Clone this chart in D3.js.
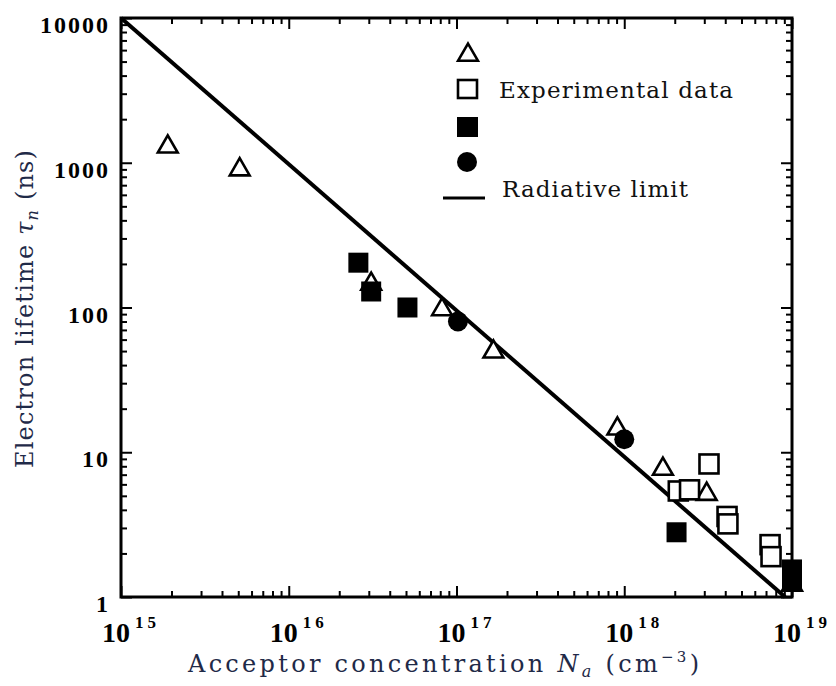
<!DOCTYPE html>
<html>
<head>
<meta charset="utf-8">
<script src="https://cdn.jsdelivr.net/npm/d3@7/dist/d3.min.js"></script>
<style>
  html, body { margin: 0; padding: 0; background: #fff; }
  svg { display: block; }
</style>
</head>
<body>
<svg id="chart" width="836" height="686"></svg>
<script>
// Acceptor concentration (cm^-3) and electron lifetime (ns) for each data set
const triangleN   = [1.9e15, 5.1e15, 3.1e16, 8.2e16, 1.66e17, 9.1e17, 1.7e18, 3.1e18, 1.0e19];
const triangleTau = [1330, 925, 150, 100, 51, 15, 7.9, 5.3, 1.25];

const openSquareN   = [2.1e18, 2.45e18, 3.2e18, 4.1e18, 4.15e18, 7.4e18, 7.5e18];
const openSquareTau = [5.4, 5.5, 8.3, 3.6, 3.2, 2.3, 1.9];

const filledSquareN   = [2.6e16, 3.1e16, 5.1e16, 2.05e18, 1.0e19, 1.0e19];
const filledSquareTau = [204, 129, 100, 2.8, 1.55, 1.3];

const circleN   = [1.02e17, 1.0e18];
const circleTau = [80, 12.3];

// Radiative limit endpoints
const limitN   = [1e15, 9.1e18];
const limitTau = [1e4, 1];

// Axis tick values
const xMajor = [1e15, 1e16, 1e17, 1e18, 1e19];
const xExponents = ["15", "16", "17", "18", "19"];
const yMajor = [1, 10, 100, 1000, 10000];
const yLabels = ["1", "10", "100", "1000", "10000"];

const svg = d3.select("#chart");
const plotLeft = 121, plotRight = 792, plotTop = 18, plotBottom = 597;

const x = d3.scaleLog().domain([1e15, 1e19]).range([plotLeft, plotRight]);
const y = d3.scaleLog().domain([1, 1e4]).range([plotBottom, plotTop]);

const xMinor = x.ticks().filter(v => !xMajor.includes(v));
const yMinor = y.ticks().filter(v => !yMajor.includes(v));

const ink = "#000";

function styleAxis(g) {
  g.select(".domain").remove();
  g.selectAll(".tick line").attr("stroke", ink).attr("stroke-width", 2);
  g.selectAll(".tick text").remove();
}

// Inward ticks on all four sides
[
  [d3.axisBottom(x), `translate(0,${plotBottom})`, xMajor, xMinor],
  [d3.axisTop(x),    `translate(0,${plotTop})`,    xMajor, xMinor],
  [d3.axisLeft(y),   `translate(${plotLeft},0)`,   yMajor, yMinor],
  [d3.axisRight(y),  `translate(${plotRight},0)`,  yMajor, yMinor]
].forEach(([axis, tr, major, minor]) => {
  svg.append("g").attr("transform", tr)
    .call(axis.tickValues(minor).tickSize(-6).tickFormat(""))
    .call(styleAxis);
  svg.append("g").attr("transform", tr)
    .call(axis.tickValues(major).tickSize(-11).tickFormat(""))
    .call(styleAxis);
});

// Frame
svg.append("rect")
  .attr("x", plotLeft).attr("y", plotTop)
  .attr("width", plotRight - plotLeft).attr("height", plotBottom - plotTop)
  .attr("fill", "none").attr("stroke", ink).attr("stroke-width", 3);

// Tick labels
const tickFont = "'Liberation Serif', 'Times New Roman', serif";
svg.append("g").selectAll("text")
  .data(yMajor)
  .join("text")
  .attr("x", plotLeft - 11)
  .attr("y", d => y(d) + 15)
  .attr("text-anchor", "end")
  .attr("font-family", tickFont)
  .attr("font-weight", "bold")
  .attr("font-size", 24)
  .attr("letter-spacing", 2)
  .text((d, i) => yLabels[i]);

const xl = svg.append("g").selectAll("text")
  .data(xMajor)
  .join("text")
  .attr("x", d => x(d) + 10)
  .attr("y", plotBottom + 45)
  .attr("text-anchor", "middle")
  .attr("font-family", tickFont)
  .attr("font-weight", "bold")
  .attr("font-size", 28);
xl.append("tspan").text("10");
xl.append("tspan").attr("dy", -14).attr("dx", 5).attr("font-size", 17)
  .attr("letter-spacing", 4)
  .text((d, i) => xExponents[i]);

// Radiative limit line
svg.append("path")
  .datum(limitN.map((n, i) => [n, limitTau[i]]))
  .attr("d", d3.line().x(d => x(d[0])).y(d => y(d[1])))
  .attr("fill", "none").attr("stroke", ink).attr("stroke-width", 4);

// Markers
const tri = d3.symbol().type(d3.symbolTriangle).size(170);
const sq = 19;

svg.append("g").selectAll("path")
  .data(triangleN.map((n, i) => [n, triangleTau[i]]))
  .join("path")
  .attr("transform", d => `translate(${x(d[0])},${y(d[1]) + 2})`)
  .attr("d", tri)
  .attr("fill", "#fff").attr("stroke", ink).attr("stroke-width", 2.6);

svg.append("g").selectAll("rect")
  .data(openSquareN.map((n, i) => [n, openSquareTau[i]]))
  .join("rect")
  .attr("x", d => x(d[0]) - sq / 2).attr("y", d => y(d[1]) - sq / 2)
  .attr("width", sq).attr("height", sq)
  .attr("fill", "#fff").attr("stroke", ink).attr("stroke-width", 2.6);

svg.append("g").selectAll("rect")
  .data(filledSquareN.map((n, i) => [n, filledSquareTau[i]]))
  .join("rect")
  .attr("x", d => x(d[0]) - 10).attr("y", d => y(d[1]) - 10)
  .attr("width", 20).attr("height", 20)
  .attr("fill", ink);

svg.append("g").selectAll("circle")
  .data(circleN.map((n, i) => [n, circleTau[i]]))
  .join("circle")
  .attr("cx", d => x(d[0])).attr("cy", d => y(d[1]))
  .attr("r", 10)
  .attr("fill", ink);

// Legend
const textFont = "'DejaVu Serif', 'Liberation Serif', serif";
const lg = svg.append("g");
lg.append("path").attr("transform", "translate(468,55)").attr("d", tri)
  .attr("fill", "#fff").attr("stroke", ink).attr("stroke-width", 2.6);
lg.append("rect").attr("x", 458).attr("y", 80).attr("width", 19).attr("height", 18)
  .attr("fill", "#fff").attr("stroke", ink).attr("stroke-width", 2.6);
lg.append("rect").attr("x", 457).attr("y", 117).attr("width", 21).attr("height", 20)
  .attr("fill", ink);
lg.append("circle").attr("cx", 467).attr("cy", 162).attr("r", 10).attr("fill", ink);
lg.append("line").attr("x1", 443).attr("x2", 485).attr("y1", 198).attr("y2", 198)
  .attr("stroke", ink).attr("stroke-width", 3);
lg.append("text").attr("x", 499).attr("y", 98)
  .attr("font-family", textFont).attr("font-size", 23).attr("fill", "#111")
  .attr("textLength", 234).attr("lengthAdjust", "spacing")
  .text("Experimental data");
lg.append("text").attr("x", 502).attr("y", 197)
  .attr("font-family", textFont).attr("font-size", 23).attr("fill", "#111")
  .attr("textLength", 186).attr("lengthAdjust", "spacing")
  .text("Radiative limit");

// Axis titles
const titleColor = "#1f2a48";
const xt = svg.append("text")
  .attr("x", 188).attr("y", 672)
  .attr("font-family", textFont).attr("font-size", 24).attr("fill", titleColor)
  .attr("textLength", 511).attr("lengthAdjust", "spacing");
xt.append("tspan").text("Acceptor concentration ");
xt.append("tspan").attr("font-style", "italic").text("N");
xt.append("tspan").attr("font-style", "italic").attr("font-size", 16).attr("dy", 5).text("a");
xt.append("tspan").attr("dy", -5).text(" (cm");
xt.append("tspan").attr("font-size", 15).attr("dy", -10).text("−3");
xt.append("tspan").attr("dy", 10).text(")");

const yt = svg.append("text")
  .attr("transform", "translate(33,468) rotate(-90)")
  .attr("font-family", textFont).attr("font-size", 24).attr("fill", titleColor)
  .attr("textLength", 318).attr("lengthAdjust", "spacing");
yt.append("tspan").text("Electron lifetime ");
yt.append("tspan").attr("font-style", "italic").text("τ");
yt.append("tspan").attr("font-style", "italic").attr("font-size", 16).attr("dy", 5).text("n");
yt.append("tspan").attr("dy", -5).text(" (ns)");
</script>
</body>
</html>
